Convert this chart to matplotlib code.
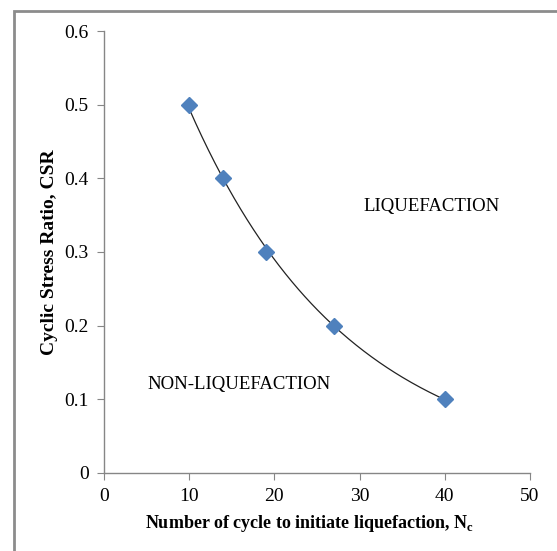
import numpy as np
import matplotlib.pyplot as plt
from matplotlib.patches import Rectangle

# data
cycles = [10, 14, 19, 27, 40]
csr = [0.5, 0.4, 0.3, 0.2, 0.1]
x_ticks = [0, 10, 20, 30, 40, 50]
y_ticks = [0, 0.1, 0.2, 0.3, 0.4, 0.5, 0.6]
y_labels = ["0", "0.1", "0.2", "0.3", "0.4", "0.5", "0.6"]

plt.rcParams['font.family'] = ['Liberation Serif', 'DejaVu Serif']

fig = plt.figure(figsize=(5.57, 5.51), dpi=100)
ax = fig.add_axes([0.1867, 0.1416, 0.7648, 0.8021])

# chart area border (runs off the right/bottom edge like the original)
fig.patches.append(Rectangle((14 / 557, -0.1), 1.2, 1 - 11 / 551 + 0.1,
                             transform=fig.transFigure, fill=False,
                             edgecolor='#8c8c8c', linewidth=2))

# exponential trendline fitted to the points
b, ln_a = np.polyfit(cycles, np.log(csr), 1)
xx = np.linspace(min(cycles), max(cycles), 200)
ax.plot(xx, np.exp(ln_a) * np.exp(b * xx), color='#222222', linewidth=0.9, zorder=2)

ax.plot(cycles, csr, linestyle='none', marker='D', markersize=8.5,
        color='#4f81bd', zorder=3)

ax.set_xlim(0, 50)
ax.set_ylim(0, 0.6)
ax.set_xticks(x_ticks)
ax.set_yticks(y_ticks)
ax.set_yticklabels(y_labels)

for s in ['top', 'right']:
    ax.spines[s].set_visible(False)
for s in ['left', 'bottom']:
    ax.spines[s].set_color('#868686')
    ax.spines[s].set_linewidth(1)
ax.tick_params(direction='out', length=5, color='#868686', labelsize=14, pad=6)

ax.set_xlabel('Number of cycle to initiate liquefaction, N$_\\mathregular{c}$',
              fontsize=13, fontweight='bold')
ax.set_ylabel('Cyclic Stress Ratio, CSR', fontsize=14, fontweight='bold')
ax.xaxis.set_label_coords(0.483, -0.09)
ax.yaxis.set_label_coords(-0.108, 0.50)

ax.text(30.4, 0.362, 'LIQUEFACTION', fontsize=13.5, va='center')
ax.text(5.05, 0.12, 'NON-LIQUEFACTION', fontsize=13.5, va='center')

fig.savefig('out.png', dpi=100)
